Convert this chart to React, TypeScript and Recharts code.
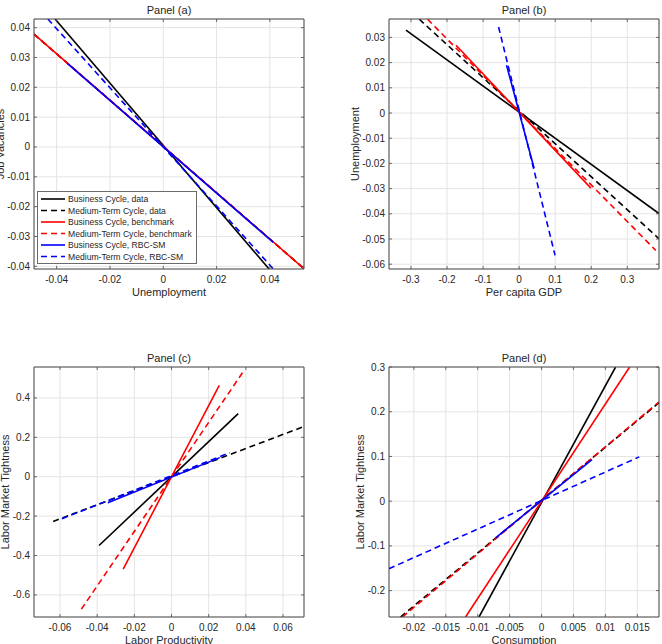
import React from "react";
import { LineChart, Line, XAxis, YAxis, CartesianGrid, Legend } from "recharts";

// ---------- series names ----------
const seriesNames = [
  "Business Cycle, data",
  "Medium-Term Cycle, data",
  "Business Cycle, benchmark",
  "Medium-Term Cycle, benchmark",
  "Business Cycle, RBC-SM",
  "Medium-Term Cycle, RBC-SM",
];

// ---------- Panel (a): Job Vacancies vs Unemployment ----------
const aBcData = [{ x: -0.0406, y: 0.0429 }, { x: 0.0397, y: -0.0409 }];
const aMtData = [{ x: -0.0485, y: 0.0378 }, { x: 0.0528, y: -0.0408 }];
const aBcBench = [{ x: -0.0485, y: 0.0378 }, { x: 0.0528, y: -0.0408 }];
const aMtBench = [{ x: -0.0485, y: 0.0378 }, { x: 0.0528, y: -0.0408 }];
const aBcRbc = [{ x: -0.036, y: 0.028 }, { x: 0.0413, y: -0.032 }];
const aMtRbc = [{ x: -0.0433, y: 0.0429 }, { x: 0.0413, y: -0.0409 }];
const aXTicks = [-0.04, -0.02, 0, 0.02, 0.04];
const aXLabels = ["-0.04", "-0.02", "0", "0.02", "0.04"];
const aYTicks = [-0.04, -0.03, -0.02, -0.01, 0, 0.01, 0.02, 0.03, 0.04];
const aYLabels = ["-0.04", "-0.03", "-0.02", "-0.01", "0", "0.01", "0.02", "0.03", "0.04"];

// ---------- Panel (b): Unemployment vs Per capita GDP ----------
const bBcData = [{ x: -0.314, y: 0.0329 }, { x: 0.388, y: -0.0399 }];
const bMtData = [{ x: -0.277, y: 0.0372 }, { x: 0.388, y: -0.0499 }];
const bBcBench = [{ x: -0.175, y: 0.0269 }, { x: 0.199, y: -0.0298 }];
const bMtBench = [{ x: -0.254, y: 0.0372 }, { x: 0.379, y: -0.0545 }];
const bBcRbc = [{ x: -0.035, y: 0.019 }, { x: 0.0415, y: -0.0219 }];
const bMtRbc = [{ x: -0.057, y: 0.0341 }, { x: 0.0997, y: -0.0565 }];
const bXTicks = [-0.3, -0.2, -0.1, 0, 0.1, 0.2, 0.3];
const bXLabels = ["-0.3", "-0.2", "-0.1", "0", "0.1", "0.2", "0.3"];
const bYTicks = [-0.06, -0.05, -0.04, -0.03, -0.02, -0.01, 0, 0.01, 0.02, 0.03];
const bYLabels = ["-0.06", "-0.05", "-0.04", "-0.03", "-0.02", "-0.01", "0", "0.01", "0.02", "0.03"];

// ---------- Panel (c): Labor Market Tightness vs Labor Productivity ----------
const cBcData = [{ x: -0.039, y: -0.349 }, { x: 0.0359, y: 0.32 }];
const cMtData = [{ x: -0.0637, y: -0.227 }, { x: 0.0713, y: 0.255 }];
const cBcBench = [{ x: -0.026, y: -0.469 }, { x: 0.0257, y: 0.464 }];
const cMtBench = [{ x: -0.0485, y: -0.672 }, { x: 0.0391, y: 0.54 }];
const cBcRbc = [{ x: -0.0343, y: -0.132 }, { x: 0.026, y: 0.097 }];
const cMtRbc = [{ x: -0.059, y: -0.213 }, { x: 0.0314, y: 0.122 }];
const cXTicks = [-0.06, -0.04, -0.02, 0, 0.02, 0.04, 0.06];
const cXLabels = ["-0.06", "-0.04", "-0.02", "0", "0.02", "0.04", "0.06"];
const cYTicks = [-0.6, -0.4, -0.2, 0, 0.2, 0.4];
const cYLabels = ["-0.6", "-0.4", "-0.2", "0", "0.2", "0.4"];

// ---------- Panel (d): Labor Market Tightness vs Consumption ----------
const dBcData = [{ x: -0.0098, y: -0.259 }, { x: 0.0116, y: 0.3 }];
const dMtData = [{ x: -0.0221, y: -0.259 }, { x: 0.0184, y: 0.22 }];
const dBcBench = [{ x: -0.0119, y: -0.259 }, { x: 0.0138, y: 0.3 }];
const dMtBench = [{ x: -0.0218, y: -0.259 }, { x: 0.0184, y: 0.222 }];
const dBcRbc = [{ x: -0.0072, y: -0.082 }, { x: 0.0079, y: 0.093 }];
const dMtRbc = [{ x: -0.0239, y: -0.151 }, { x: 0.0153, y: 0.099 }];
const dXTicks = [-0.02, -0.015, -0.01, -0.005, 0, 0.005, 0.01, 0.015];
const dXLabels = ["-0.02", "-0.015", "-0.01", "-0.005", "0", "0.005", "0.01", "0.015"];
const dYTicks = [-0.2, -0.1, 0, 0.1, 0.2, 0.3];
const dYLabels = ["-0.2", "-0.1", "0", "0.1", "0.2", "0.3"];

// ---------- styles ----------
const COLORS = ["#000000", "#000000", "#ff0000", "#ff0000", "#0000ff", "#0000ff"];
const DASHES = [undefined, "6 4", undefined, "6 4", undefined, "6 4"];
const FONT = "'Liberation Sans', Arial, Helvetica, sans-serif";
const AXIS = "#4a4a4a";
const TEXT = "#262626";
const GRID = "#e4e4e4";

// axis band sizes (compensated in margins so the plot box lands where intended)
const XB = 20; // bottom axis height
const XT = 4; // top axis height
const YL = 20; // left axis width
const YR = 3; // right axis width

type PanelCfg = {
  title: string;
  xLabel: string;
  yLabel: string;
  series: { x: number; y: number }[][];
  xDomain: [number, number];
  yDomain: [number, number];
  xTicks: number[];
  xLabels: string[];
  yTicks: number[];
  yLabels: string[];
  left: number;
  top: number;
  box: { top: number; right: number; bottom: number; left: number };
  yLabelGap: number;
  legend?: boolean;
};

const panels: PanelCfg[] = [
  {
    title: "Panel (a)", xLabel: "Unemployment", yLabel: "Job Vacancies",
    series: [aBcData, aMtData, aBcBench, aMtBench, aBcRbc, aMtRbc],
    xDomain: [-0.0485, 0.0528], yDomain: [-0.0409, 0.0429],
    xTicks: aXTicks, xLabels: aXLabels, yTicks: aYTicks, yLabels: aYLabels,
    left: 0, top: 0, box: { top: 19, right: 27, bottom: 53, left: 34 }, yLabelGap: 30, legend: true,
  },
  {
    title: "Panel (b)", xLabel: "Per capita GDP", yLabel: "Unemployment",
    series: [bBcData, bMtData, bBcBench, bMtBench, bBcRbc, bMtRbc],
    xDomain: [-0.361, 0.388], yDomain: [-0.0619, 0.0373],
    xTicks: bXTicks, xLabels: bXLabels, yTicks: bYTicks, yLabels: bYLabels,
    left: 331, top: 0, box: { top: 19, right: 3, bottom: 53, left: 58 }, yLabelGap: 30,
  },
  {
    title: "Panel (c)", xLabel: "Labor Productivity", yLabel: "Labor Market Tightness",
    series: [cBcData, cMtData, cBcBench, cMtBench, cBcRbc, cMtRbc],
    xDomain: [-0.074, 0.0713], yDomain: [-0.712, 0.557],
    xTicks: cXTicks, xLabels: cXLabels, yTicks: cYTicks, yLabels: cYLabels,
    left: 0, top: 322, box: { top: 45, right: 27, bottom: 27, left: 34 }, yLabelGap: 25,
  },
  {
    title: "Panel (d)", xLabel: "Consumption", yLabel: "Labor Market Tightness",
    series: [dBcData, dMtData, dBcBench, dMtBench, dBcRbc, dMtRbc],
    xDomain: [-0.0239, 0.0184], yDomain: [-0.259, 0.3],
    xTicks: dXTicks, xLabels: dXLabels, yTicks: dYTicks, yLabels: dYLabels,
    left: 331, top: 322, box: { top: 45, right: 3, bottom: 27, left: 58 }, yLabelGap: 25,
  },
];

const W = 331;
const H = 322;

const labelFor = (ticks: number[], labels: string[], v: number) => {
  const i = ticks.findIndex((t) => Math.abs(t - v) < 1e-9);
  return i >= 0 ? labels[i] : String(v);
};

const LegendBox = () => (
  <svg width={160} height={73} style={{ display: "block" }}>
    <rect x={0.5} y={0.5} width={159} height={72} fill="#ffffff" stroke="#6b6b6b" strokeWidth={1} />
    {seriesNames.map((n, i) => (
      <g key={n}>
        <line x1={4} x2={28} y1={8 + i * 11.5} y2={8 + i * 11.5} stroke={COLORS[i]} strokeWidth={1.6} strokeDasharray={DASHES[i]} />
        <text x={31} y={8 + i * 11.5 + 3.2} fontSize={8.6} fill={TEXT} fontFamily={FONT}>{n}</text>
      </g>
    ))}
  </svg>
);

const Panel = ({ cfg }: { cfg: PanelCfg }) => {
  const { box } = cfg;
  const margin = {
    top: box.top - XT,
    right: Math.max(0, box.right - YR),
    bottom: box.bottom - XB,
    left: box.left - YL,
  };
  const plotW = W - box.left - box.right;
  const plotH = H - box.top - box.bottom;
  const cx = box.left + plotW / 2;
  const cy = box.top + plotH / 2;

  const BottomTick = (p: any) => (
    <g>
      <line x1={p.x} x2={p.x} y1={p.y} y2={p.y - 3} stroke={AXIS} strokeWidth={0.8} />
      <text x={p.x} y={p.y + 14} textAnchor="middle" fontSize={10} fill={TEXT} fontFamily={FONT}>
        {labelFor(cfg.xTicks, cfg.xLabels, p.payload.value)}
      </text>
    </g>
  );
  const TopTick = (p: any) => (
    <line x1={p.x} x2={p.x} y1={p.y} y2={p.y + 3} stroke={AXIS} strokeWidth={0.8} />
  );
  const LeftTick = (p: any) => (
    <g>
      <line x1={p.x} x2={p.x + 3} y1={p.y} y2={p.y} stroke={AXIS} strokeWidth={0.8} />
      <text x={p.x - 4} y={p.y + 3.5} textAnchor="end" fontSize={10} fill={TEXT} fontFamily={FONT}>
        {labelFor(cfg.yTicks, cfg.yLabels, p.payload.value)}
      </text>
    </g>
  );
  const RightTick = (p: any) => (
    <line x1={p.x} x2={p.x - 3} y1={p.y} y2={p.y} stroke={AXIS} strokeWidth={0.8} />
  );

  return (
    <div style={{ position: "absolute", left: cfg.left, top: cfg.top, width: W, height: H }}>
      <LineChart width={W} height={H} margin={margin}>
        <CartesianGrid stroke={GRID} strokeWidth={1} xAxisId="b" yAxisId="l" />
        <XAxis xAxisId="b" dataKey="x" type="number" domain={cfg.xDomain} ticks={cfg.xTicks}
          allowDataOverflow height={XB} tickSize={0} tickMargin={0} tick={BottomTick}
          axisLine={{ stroke: AXIS, strokeWidth: 1 }} interval={0} />
        <XAxis xAxisId="t" orientation="top" dataKey="x" type="number" domain={cfg.xDomain} ticks={cfg.xTicks}
          allowDataOverflow height={XT} tickSize={0} tickMargin={0} tick={TopTick}
          axisLine={{ stroke: AXIS, strokeWidth: 1 }} interval={0} />
        <YAxis yAxisId="l" dataKey="y" type="number" domain={cfg.yDomain} ticks={cfg.yTicks}
          allowDataOverflow width={YL} tickSize={0} tickMargin={0} tick={LeftTick}
          axisLine={{ stroke: AXIS, strokeWidth: 1 }} interval={0} />
        <YAxis yAxisId="r" orientation="right" dataKey="y" type="number" domain={cfg.yDomain} ticks={cfg.yTicks}
          allowDataOverflow width={YR} tickSize={0} tickMargin={0} tick={RightTick}
          axisLine={{ stroke: AXIS, strokeWidth: 1 }} interval={0} />
        {cfg.series.map((d, i) => (
          <Line key={i} xAxisId="b" yAxisId="l" data={d} dataKey="y" name={seriesNames[i]} type="linear"
            stroke={COLORS[i]} strokeWidth={1.6} strokeDasharray={DASHES[i]} dot={false}
            activeDot={false} isAnimationActive={false} />
        ))}
        {cfg.legend && (
          <Legend layout="vertical" align="center" verticalAlign="middle"
            wrapperStyle={{ position: "absolute", left: 37, top: 191, width: 160, height: 73 }}
            content={() => <LegendBox />} />
        )}
      </LineChart>
      <svg width={W} height={H} style={{ position: "absolute", left: 0, top: 0, pointerEvents: "none", overflow: "visible" }}>
        <text x={cx} y={box.top - 5} textAnchor="middle" fontSize={11} fill={TEXT} fontFamily={FONT}>{cfg.title}</text>
        <text x={cx} y={box.top + plotH + 27} textAnchor="middle" fontSize={11} fill={TEXT} fontFamily={FONT}>{cfg.xLabel}</text>
        <text x={box.left - cfg.yLabelGap} y={cy} textAnchor="middle" fontSize={11} fill={TEXT} fontFamily={FONT}
          transform={`rotate(-90 ${box.left - cfg.yLabelGap} ${cy})`}>{cfg.yLabel}</text>
      </svg>
    </div>
  );
};

export default function App() {
  return (
    <div style={{ position: "absolute", left: 0, top: 0, width: 662, height: 644, background: "#ffffff", overflow: "hidden" }}>
      {panels.map((p) => (
        <Panel key={p.title} cfg={p} />
      ))}
    </div>
  );
}
